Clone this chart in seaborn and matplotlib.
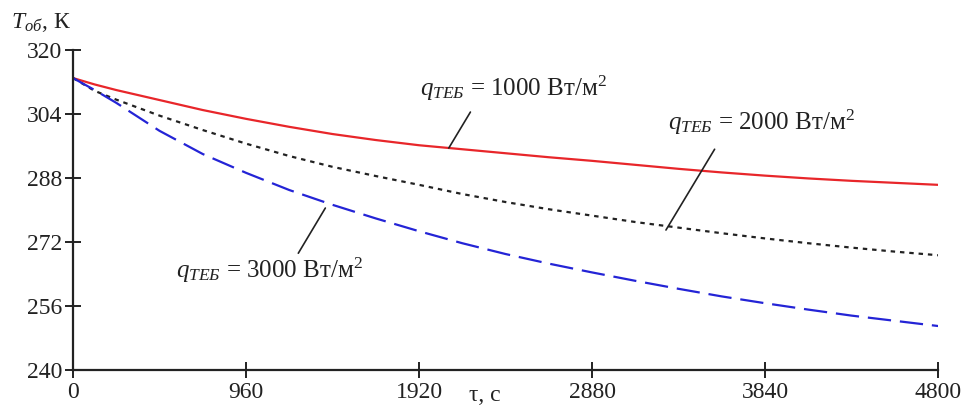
import numpy as np
import pandas as pd
import matplotlib
matplotlib.use("Agg")
import matplotlib.pyplot as plt
import seaborn as sns

# time, s
tau = [0, 120, 240, 480, 720, 960, 1200, 1440, 1680, 1920, 2160, 2400,
       2640, 2880, 3120, 3360, 3600, 3840, 4080, 4320, 4560, 4800]

# body temperature, K, for each heat flux
t_1000 = [313.0, 311.4, 310.0, 307.5, 305.0, 302.8, 300.8, 299.0, 297.5, 296.2, 295.2,
          294.2, 293.2, 292.3, 291.3, 290.3, 289.4, 288.6, 287.9, 287.3, 286.8, 286.3]
t_2000 = [313.0, 309.8, 307.6, 303.6, 300.0, 296.6, 293.5, 290.8, 288.5, 286.3, 284.0,
          282.0, 280.2, 278.6, 277.0, 275.6, 274.2, 272.9, 271.7, 270.6, 269.6, 268.7]
t_3000 = [313.0, 310.0, 306.8, 299.8, 294.0, 289.3, 285.0, 281.3, 277.9, 274.7, 271.7,
          269.0, 266.6, 264.4, 262.3, 260.3, 258.4, 256.7, 255.1, 253.6, 252.3, 251.0]

x_ticks = [0, 960, 1920, 2880, 3840, 4800]
y_ticks = [240, 256, 272, 288, 304, 320]

sns.set_style("ticks")
plt.rcParams['font.family'] = ['Liberation Serif', 'DejaVu Serif']
plt.rcParams['mathtext.fontset'] = 'custom'
plt.rcParams['mathtext.rm'] = 'Liberation Serif'
plt.rcParams['mathtext.it'] = 'Liberation Serif:italic'

df = pd.DataFrame({'tau': tau, 'q1000': t_1000, 'q2000': t_2000, 'q3000': t_3000})

fig = plt.figure(figsize=(9.66, 4.05), dpi=100)
ax = fig.add_axes([0.0756, 0.0864, 0.8955, 0.79])

sns.lineplot(data=df, x='tau', y='q1000', ax=ax, color='#e8262a', lw=1.6)
sns.lineplot(data=df, x='tau', y='q2000', ax=ax, color='#222222', lw=1.6,
             linestyle=(0, (2.0, 2.2)))
sns.lineplot(data=df, x='tau', y='q3000', ax=ax, color='#2424d6', lw=1.6,
             linestyle=(0, (10.5, 4.0)))

ax.set_xlim(0, 4800)
ax.set_ylim(240, 320)
ax.set_xticks(x_ticks)
ax.set_yticks(y_ticks)
ax.set_xlabel('')
ax.set_ylabel('')
sns.despine(ax=ax)
for s in ['left', 'bottom']:
    ax.spines[s].set_linewidth(1.6)
    ax.spines[s].set_color('#222222')
ax.tick_params(direction='inout', length=11, width=1.4, labelsize=17,
               colors='#222222', pad=2)
ax.tick_params(axis='x', pad=3)

# axis titles
fig.text(0.011, 0.945, '$T_{об}$, К', fontsize=17, color='#222222', va='center')
fig.text(0.486, 0.024, 'τ, с', fontsize=17, color='#222222', va='center')

# labels with leader lines
lbl = '$q_{ТЕБ}$ = {} Вт/м$^2$'
ax.text(1926, 310.5, lbl.replace('{}', '1000'), fontsize=18, color='#222222', va='center')
ax.plot([2205, 2085], [304.5, 295.5], color='#222222', lw=1.2)
ax.text(3302, 302.0, lbl.replace('{}', '2000'), fontsize=18, color='#222222', va='center')
ax.plot([3560, 3290], [295.2, 275.0], color='#222222', lw=1.2)
ax.text(572, 265.0, lbl.replace('{}', '3000'), fontsize=18, color='#222222', va='center')
ax.plot([1400, 1250], [280.5, 269.2], color='#222222', lw=1.2)

fig.savefig('out.png', dpi=100)
